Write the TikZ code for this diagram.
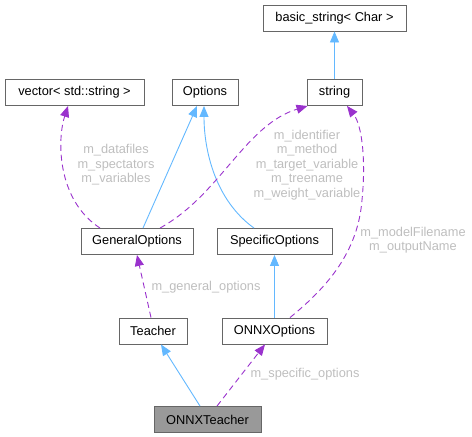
\documentclass[tikz,border=0pt]{standalone}
\usepackage{fontspec}
\setmainfont{Liberation Sans}
\usepackage{xcolor}
\usepackage{tikz}
\usetikzlibrary{arrows.meta,calc,positioning}

\definecolor{boxline}{HTML}{666666}
\definecolor{boxfill}{HTML}{999999}
\definecolor{inhblue}{HTML}{63B8FF}
\definecolor{usepurple}{HTML}{9A32CD}
\definecolor{labgray}{HTML}{BEBEBE}

\begin{document}
\begin{tikzpicture}[x=1pt, y=-1pt,
  font=\fontsize{12.8}{14.5}\selectfont,
  cls/.style={draw=boxline, line width=0.9pt, fill=white, inner sep=0pt, minimum height=26pt},
  inh/.style={inhblue, line width=0.9pt, -{Triangle[length=11pt, width=9pt]}},
  usage/.style={usepurple, line width=0.9pt, dash pattern=on 6pt off 4pt, -{Triangle[length=11pt, width=9pt]}},
  lab/.style={text=labgray, align=center, inner sep=0pt}]

  \useasboundingbox (0,0) rectangle (472,437);

  % Classes
  \node[cls, minimum width=143pt] (basic) at (334.5,18) {basic\_string< Char >};
  \node[cls, minimum width=139pt] (vec) at (74.5,92.5) {vector< std::string >};
  \node[cls, minimum width=66pt] (opts) at (205,92.5) {Options};
  \node[cls, minimum width=55pt] (str) at (334.5,92.5) {string};
  \node[cls, minimum width=112pt] (gen) at (137,241.5) {GeneralOptions};
  \node[cls, minimum width=115pt] (spec) at (274.5,241.5) {SpecificOptions};
  \node[cls, minimum width=68pt] (teach) at (153,331) {Teacher};
  \node[cls, minimum width=105pt] (onnxo) at (274.5,331) {ONNXOptions};
  \node[cls, minimum width=107pt, fill=boxfill] (onnxt) at (207.5,419.5) {ONNXTeacher};

  % Inheritance
  \draw[inh] (str.north) -- (basic.south);
  \draw[inh] ([xshift=6pt]gen.north) -- ([xshift=-8pt]opts.south);
  \draw[inh] ([xshift=-20.5pt]spec.north) .. controls (215,200) and (204,150) .. ([xshift=-1pt]opts.south);
  \draw[inh] (onnxo.north) -- (spec.south);
  \draw[inh] ([xshift=-7.5pt]onnxt.north) -- ([xshift=8pt]teach.south);

  % Usage
  \draw[usage] ([xshift=-37pt]gen.north) .. controls (57,200) and (57,140) .. ([xshift=-6.5pt]vec.south);
  \draw[usage] ([xshift=23pt]gen.north) .. controls (220,195) and (245,125) .. ([xshift=-27pt]str.south);
  \draw[usage] ([xshift=15.5pt]onnxo.north) .. controls (330,285) and (358,250) .. (362,200)
    .. controls (366,160) and (362,125) .. ([xshift=12.5pt]str.south);
  \draw[usage] ([xshift=-2pt]teach.north) -- (gen.south);
  \draw[usage] ([xshift=9.5pt]onnxt.north) -- ([xshift=-9.5pt]onnxo.south);

  % Member labels
  \node[lab] (lvec) at (116,165) {m\_datafiles\\m\_spectators\\m\_variables};
  \node[lab] (lstr) at (307,165) {m\_identifier\\m\_method\\m\_target\_variable\\m\_treename\\m\_weight\_variable};
  \node[lab] (lout) at (413,240) {m\_modelFilename\\m\_outputName};
  \node[lab] (lgen) at (206,287) {m\_general\_options};
  \node[lab] (lspec) at (305,374) {m\_specific\_options};

\end{tikzpicture}
\end{document}
